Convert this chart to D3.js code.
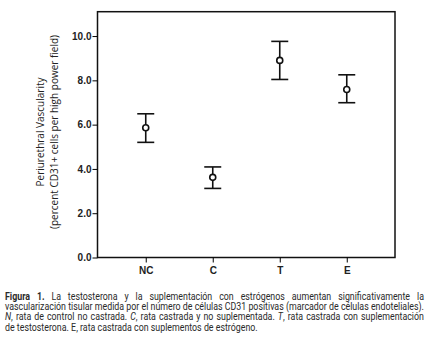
<!DOCTYPE html>
<html>
<head>
<meta charset="utf-8">
<script src="https://cdn.jsdelivr.net/npm/d3@7"></script>
<style>
  body { margin: 0; background: #fff; }
  svg { display: block; }
</style>
</head>
<body>
<div id="chart"></div>
<script>
const width = 429;
const height = 354;

// grupos y valores (media, limite inferior y superior de la barra de error)
const groups = ["NC", "C", "T", "E"];
const means = [5.86, 3.62, 8.9, 7.59];
const lower = [5.2, 3.12, 8.04, 6.99];
const upper = [6.49, 4.09, 9.76, 8.25];
const yTicks = [0, 2, 4, 6, 8, 10];

const axisTitle = ["Periurethral Vascularity", "(percent CD31+ cells per high power field)"];

// pie de figura, una linea por fila
const captionLines = [
    [{t: "Figura 1.", b: true}, {t: " La testosterona y la suplementación con estrógenos aumentan significativamente la"}],
    [{t: "vascularización tisular medida por el número de células CD31 positivas (marcador de células endoteliales)."}],
    [{t: "N", i: true}, {t: ", rata de control no castrada. "}, {t: "C", i: true}, {t: ", rata castrada y no suplementada. "}, {t: "T", i: true}, {t: ", rata castrada con suplementación"}],
    [{t: "de testosterona. E, rata castrada con suplementos de estrógeno."}]
];

const box = {left: 97.5, right: 395, top: 11.7, bottom: 257.5};

const svg = d3.select("#chart").append("svg")
    .attr("width", width)
    .attr("height", height);

const x = d3.scalePoint()
    .domain(groups)
    .range([box.left, box.right])
    .padding(0.72);

const y = d3.scaleLinear()
    .domain([0, 11.1])
    .range([box.bottom, box.top]);

// marco del grafico
svg.append("rect")
    .attr("x", box.left)
    .attr("y", box.top)
    .attr("width", box.right - box.left)
    .attr("height", box.bottom - box.top)
    .attr("fill", "none")
    .attr("stroke", "#111")
    .attr("stroke-width", 1.5);

const axisY = d3.axisLeft(y)
    .tickValues(yTicks)
    .tickSize(5)
    .tickFormat(d3.format(".1f"));

const gy = svg.append("g")
    .attr("transform", `translate(${box.left},0)`)
    .call(axisY);
gy.select(".domain").remove();
gy.selectAll("text")
    .style("font-family", "'Liberation Sans', Arial, sans-serif")
    .style("font-size", "10px")
    .style("font-weight", "bold")
    .attr("fill", "#222")
    .attr("x", -6);

const axisX = d3.axisBottom(x).tickSize(5).tickPadding(4);
const gx = svg.append("g")
    .attr("transform", `translate(0,${box.bottom})`)
    .call(axisX);
gx.select(".domain").remove();
gx.selectAll("text")
    .style("font-family", "'Liberation Sans', Arial, sans-serif")
    .style("font-size", "10px")
    .style("font-weight", "bold")
    .attr("fill", "#222");

// titulo del eje Y en dos lineas
const title = svg.append("text")
    .attr("transform", "translate(40,132) rotate(-90)")
    .attr("text-anchor", "middle")
    .style("font-family", "'Open Sans', sans-serif")
    .style("font-size", "10px")
    .attr("fill", "#222");
title.selectAll("tspan")
    .data(axisTitle)
    .join("tspan")
    .attr("x", 0)
    .attr("dy", (d, i) => i === 0 ? "0.35em" : "14.5")
    .text(d => d);

// barras de error y medias
const capW = 17;
const bars = svg.append("g")
    .attr("stroke", "#111")
    .attr("stroke-width", 1.6)
    .attr("fill", "none");

groups.forEach((g, i) => {
    const cx = x(g);
    bars.append("line")
        .attr("x1", cx).attr("x2", cx)
        .attr("y1", y(upper[i])).attr("y2", y(lower[i]));
    bars.append("line")
        .attr("x1", cx - capW / 2).attr("x2", cx + capW / 2)
        .attr("y1", y(upper[i])).attr("y2", y(upper[i]));
    bars.append("line")
        .attr("x1", cx - capW / 2).attr("x2", cx + capW / 2)
        .attr("y1", y(lower[i])).attr("y2", y(lower[i]));
    bars.append("circle")
        .attr("cx", cx)
        .attr("cy", y(means[i]))
        .attr("r", 3)
        .attr("fill", "#fff");
});

// pie de figura justificado: palabra a palabra, fuente estrechada
const capLeft = 5, capWidth = 419;
const cap = svg.append("g")
    .style("font-family", "Roboto, 'Open Sans', sans-serif")
    .style("font-size", "10px")
    .attr("fill", "#2a2a2a");

function styleTok(sel, tok) {
    sel.style("font-weight", tok.b ? "bold" : null)
        .style("font-style", tok.i ? "italic" : null);
}

// separar en palabras y medir
const measure = cap.append("text");
function textW(tok) {
    measure.text(tok.t);
    styleTok(measure, tok);
    return measure.node().getComputedTextLength();
}
const spaceW = textW({t: "a a"}) - textW({t: "aa"});
const lines = captionLines.map(line => {
    const words = [];
    let joinNext = false;
    line.forEach(seg => {
        const parts = seg.t.split(" ");
        parts.forEach((p, k) => {
            if (p === "") { if (k > 0) joinNext = false; return; }
            if (k === 0 && words.length && !seg.t.startsWith(" ") && joinNext) {
                words[words.length - 1].parts.push({t: p, b: seg.b, i: seg.i});
            } else {
                words.push({parts: [{t: p, b: seg.b, i: seg.i}]});
            }
            joinNext = true;
        });
        if (seg.t.endsWith(" ")) joinNext = false;
    });
    words.forEach(w => { w.w = d3.sum(w.parts, p => textW(p)); });
    return words;
});
measure.remove();

const natural = lines.map(ws => d3.sum(ws, w => w.w) + spaceW * (ws.length - 1));
const sx = Math.min(1, capWidth / d3.max(natural));

lines.forEach((ws, i) => {
    const last = i === lines.length - 1;
    const inner = d3.sum(ws, w => w.w) * sx;
    const gap = last ? spaceW * sx : (capWidth - inner) / (ws.length - 1);
    const t = cap.append("text").attr("y", 300 + i * 10.2);
    let cur = capLeft;
    ws.forEach(w => {
        w.parts.forEach((p, k) => {
            const ts = t.append("tspan").text(p.t);
            // x en coordenadas sin escalar
            if (k === 0) ts.attr("x", capLeft + (cur - capLeft) / sx);
            styleTok(ts, p);
        });
        cur += w.w * sx + gap;
    });
    t.attr("transform", `translate(${capLeft},0) scale(${sx},1) translate(${-capLeft},0)`);
});
</script>
</body>
</html>
